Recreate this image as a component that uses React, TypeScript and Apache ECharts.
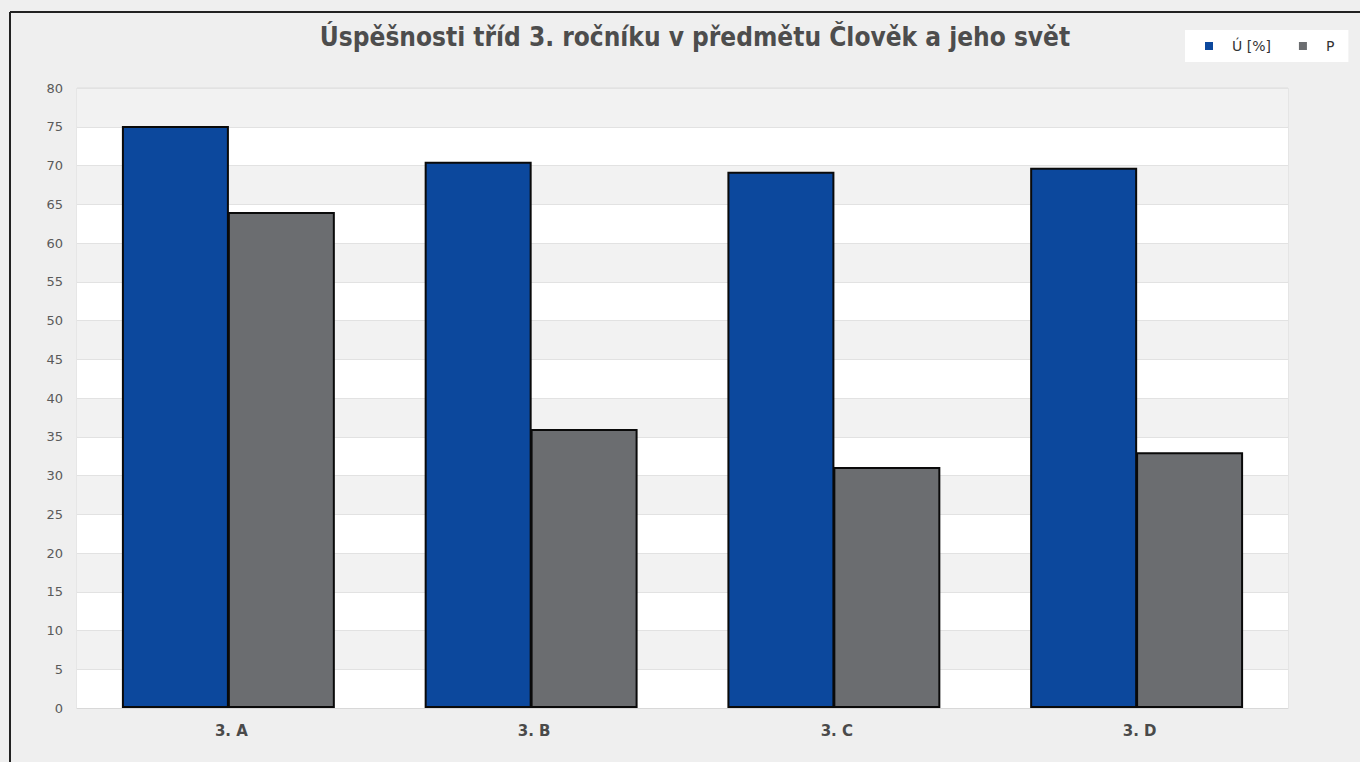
import React, { useEffect, useRef } from "react";
import * as echarts from "echarts";

const categories = ["3. A", "3. B", "3. C", "3. D"];
const seriesU = [75.1, 70.5, 69.2, 69.7];
const seriesP = [64, 36, 31.1, 33];
const seriesNames = ["Ú [%]", "P"];
const titleText = "Úspěšnosti tříd 3. ročníku v předmětu Člověk a jeho svět";

export default function App() {
  const ref = useRef<HTMLDivElement>(null);
  useEffect(() => {
    const chart = echarts.init(ref.current!, null, { renderer: "svg" });
    chart.setOption({
      animation: false,
      backgroundColor: "#efefef",
      title: {
        text: titleText,
        left: 690,
        textAlign: "center",
        top: 19,
        textStyle: {
          fontFamily: "DejaVu Sans Condensed",
          fontWeight: "bold",
          fontSize: 26,
          color: "#4d4d4d",
        },
      },
      legend: {
        data: seriesNames,
        left: 1185,
        top: 30,
        backgroundColor: "#ffffff",
        padding: [9, 14, 9, 20],
        itemWidth: 8,
        itemHeight: 8,
        itemGap: 28,
        icon: "rect",
        itemStyle: { borderWidth: 0 },
        textStyle: { fontFamily: "DejaVu Sans", fontSize: 14, color: "#333", padding: [0, 0, 0, 14] },
      },
      grid: {
        left: 77,
        right: 72,
        top: 88,
        bottom: 54,
        show: true,
        borderColor: "#dcdcdc",
        borderWidth: 1,
        backgroundColor: "transparent",
      },
      xAxis: {
        type: "category",
        data: categories,
        axisTick: { show: false },
        axisLine: { lineStyle: { color: "#d8d8d8" } },
        axisLabel: {
          margin: 15,
          fontFamily: "DejaVu Sans",
          fontWeight: "bold",
          fontSize: 15,
          color: "#4a4a4a",
          padding: [0, 0, 0, 6],
        },
      },
      yAxis: {
        type: "value",
        min: 0,
        max: 80,
        interval: 5,
        axisLine: { show: false },
        axisTick: { show: false },
        axisLabel: {
          margin: 14,
          fontFamily: "DejaVu Sans",
          fontSize: 13,
          color: "#5a5a5a",
        },
        splitLine: { lineStyle: { color: "#e2e2e2" } },
        splitArea: { show: true, areaStyle: { color: ["#ffffff", "#f2f2f2"] } },
      },
      series: [
        {
          name: seriesNames[0],
          type: "bar",
          data: seriesU,
          barWidth: 107,
          barGap: "-1%",
          itemStyle: { color: "#0c489d", borderColor: "#0a0a0a", borderWidth: 2 },
        },
        {
          name: seriesNames[1],
          type: "bar",
          data: seriesP,
          barWidth: 107,
          itemStyle: { color: "#6b6d70", borderColor: "#0a0a0a", borderWidth: 2 },
        },
      ],
      graphic: [
        { type: "line", shape: { x1: 10, y1: 12, x2: 1360, y2: 12 }, style: { stroke: "#222", lineWidth: 2 } },
        { type: "line", shape: { x1: 10, y1: 12, x2: 10, y2: 762 }, style: { stroke: "#222", lineWidth: 2 } },
      ],
    });
    return () => chart.dispose();
  }, []);
  return (
    <div style={{ position: "fixed", left: 0, top: 0, width: 1360, height: 762, background: "#efefef" }}>
      <div ref={ref} style={{ width: 1360, height: 762 }} />
    </div>
  );
}
